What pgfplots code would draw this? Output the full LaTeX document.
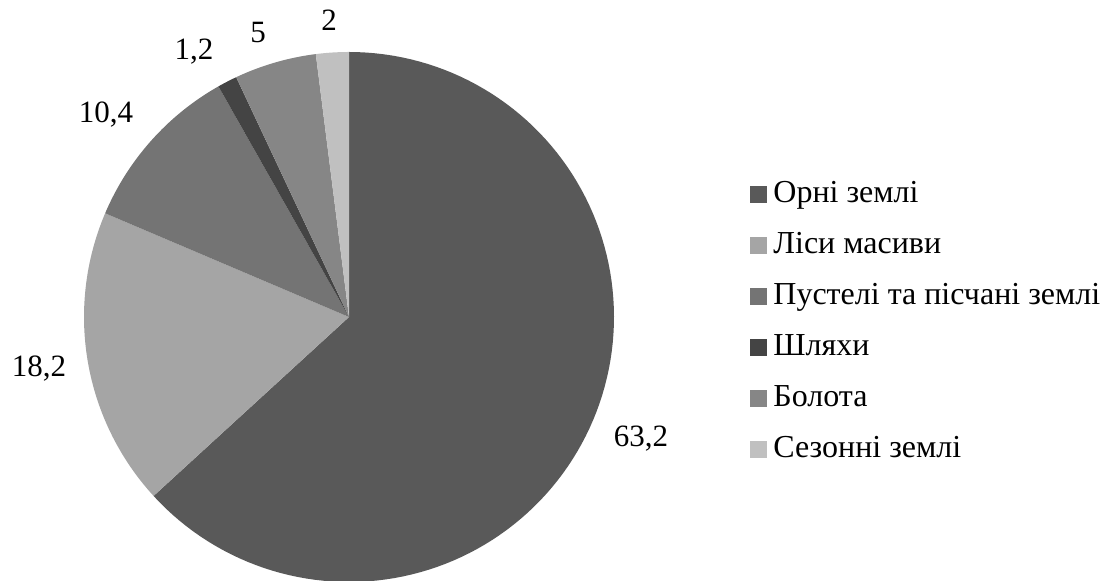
\documentclass[border=0pt]{standalone}
\usepackage{fontspec}
\setmainfont{Liberation Serif}
\usepackage{pgfplots}
\pgfplotsset{compat=1.18}
\definecolor{c1}{HTML}{595959}
\definecolor{c2}{HTML}{A5A5A5}
\definecolor{c3}{HTML}{747474}
\definecolor{c4}{HTML}{444444}
\definecolor{c5}{HTML}{868686}
\definecolor{c6}{HTML}{C0C0C0}
\begin{document}
\begin{tikzpicture}
\begin{axis}[
  scale only axis, width=553pt, height=290.5pt,
  xmin=0, xmax=1106, ymin=0, ymax=581,
  hide axis, clip=false,
  legend cell align=left,
  legend style={at={(axis cs:744,405)}, anchor=north west, draw=none, fill=none,
    font=\fontsize{16}{18}\selectfont,
    nodes={inner sep=0pt, text height=11pt, text depth=3pt},
    row sep=11.5pt, /tikz/every odd column/.style={column sep=3pt}},
  legend image code/.code={\fill[#1] (0pt,-4.25pt) rectangle (8.5pt,4.25pt);},
]
% values (percent): 63.2, 18.2, 10.4, 1.2, 5, 2  -- cumulative: 0, 63.2, 81.4, 91.8, 93, 98, 100
\addplot[fill=c1, draw=none, domain={90-3.6*63.2}:{90-3.6*0}, samples=120] ({349+265*cos(x)},{264+265*sin(x)}) -- (axis cs:349,264) -- cycle;
\addlegendentry{Орні землі}
\addplot[fill=c2, draw=none, domain={90-3.6*81.4}:{90-3.6*63.2}, samples=60] ({349+265*cos(x)},{264+265*sin(x)}) -- (axis cs:349,264) -- cycle;
\addlegendentry{Ліси масиви}
\addplot[fill=c3, draw=none, domain={90-3.6*91.8}:{90-3.6*81.4}, samples=40] ({349+265*cos(x)},{264+265*sin(x)}) -- (axis cs:349,264) -- cycle;
\addlegendentry{Пустелі та пісчані землі}
\addplot[fill=c4, draw=none, domain={90-3.6*93}:{90-3.6*91.8}, samples=10] ({349+265*cos(x)},{264+265*sin(x)}) -- (axis cs:349,264) -- cycle;
\addlegendentry{Шляхи}
\addplot[fill=c5, draw=none, domain={90-3.6*98}:{90-3.6*93}, samples=20] ({349+265*cos(x)},{264+265*sin(x)}) -- (axis cs:349,264) -- cycle;
\addlegendentry{Болота}
\addplot[fill=c6, draw=none, domain={90-3.6*100}:{90-3.6*98}, samples=10] ({349+265*cos(x)},{264+265*sin(x)}) -- (axis cs:349,264) -- cycle;
\addlegendentry{Сезонні землі}
\begin{scope}[every node/.style={font=\fontsize{15.5}{18}\selectfont, inner sep=0pt}]
\node at (axis cs:641,142) {63,2};
\node at (axis cs:39,212) {18,2};
\node at (axis cs:106,466) {10,4};
\node at (axis cs:194,529) {1,2};
\node at (axis cs:258,548) {5};
\node at (axis cs:329,561) {2};
\end{scope}
\end{axis}
\pgfresetboundingbox
\path[use as bounding box] (0,0) rectangle (553pt,290.5pt);
\end{tikzpicture}
\end{document}
